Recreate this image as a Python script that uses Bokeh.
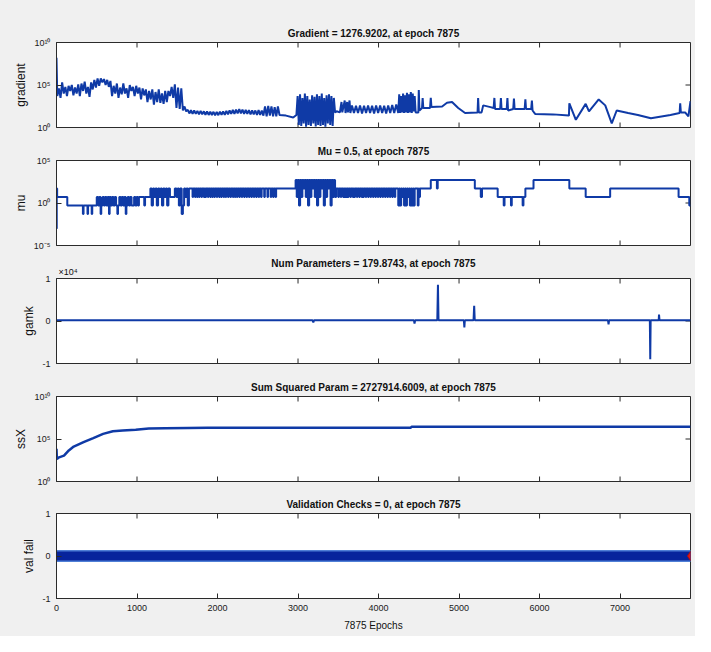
from bokeh.plotting import figure
from bokeh.layouts import column
from bokeh.models import Range1d, LinearAxis, LogAxis, FixedTicker, LogScale, Title
from bokeh.embed import file_html
from bokeh.resources import INLINE

# ---------------- data ----------------
final_epoch = 7875
x_ticks = [0, 1000, 2000, 3000, 4000, 5000, 6000, 7000]
x_tick_labels = ["0", "1000", "2000", "3000", "4000", "5000", "6000", "7000"]

titles = [
    "Gradient = 1276.9202, at epoch 7875",
    "Mu = 0.5, at epoch 7875",
    "Num Parameters = 179.8743, at epoch 7875",
    "Sum Squared Param = 2727914.6009, at epoch 7875",
    "Validation Checks = 0, at epoch 7875",
]
y_labels = ["gradient", "mu", "gamk", "ssX", "val fail"]
gamk_multiplier = "\u00d710\u2074"

grad_ticks = [1, 1e5, 1e10]
grad_tick_labels = ["10\u2070", "10\u2075", "10\u00b9\u2070"]
mu_ticks = [1e-5, 1, 1e5]
mu_tick_labels = ["10\u207b\u2075", "10\u2070", "10\u2075"]
gamk_ticks = [-1e4, 0, 1e4]
gamk_tick_labels = ["-1", "0", "1"]
ssx_ticks = [1, 1e5, 1e10]
ssx_tick_labels = ["10\u2070", "10\u2075", "10\u00b9\u2070"]
val_ticks = [-1, 0, 1]
val_tick_labels = ["-1", "0", "1"]

grad_epochs = [
    0, 10, 30, 50, 70, 90, 110, 130, 150, 170,
    190, 210, 230, 250, 270, 290, 310, 330, 350, 370,
    390, 410, 430, 450, 470, 490, 510, 530, 550, 570,
    590, 610, 630, 650, 670, 690, 710, 730, 750, 770,
    790, 810, 830, 850, 870, 890, 910, 930, 950, 970,
    990, 1010, 1030, 1050, 1070, 1090, 1110, 1130, 1150, 1170,
    1190, 1210, 1230, 1250, 1270, 1290, 1310, 1330, 1350, 1370,
    1390, 1410, 1430, 1450, 1470, 1490, 1510, 1530, 1550, 1570,
    1590, 1610,
    1630, 1650, 1670, 1690, 1710, 1730, 1750, 1770, 1790, 1810,
    1830, 1850, 1870, 1890, 1910, 1930, 1950, 1970, 1990, 2010,
    2030, 2050, 2070, 2090, 2110, 2130, 2150, 2170, 2190, 2210,
    2230, 2250, 2270, 2290, 2310, 2330, 2350, 2370, 2390, 2410,
    2430, 2450, 2470, 2490, 2510, 2530, 2550, 2570,
    2590, 2610, 2630, 2650, 2670, 2690, 2710, 2730, 2750, 2770,
    2850, 2940, 2980,
    2995, 3010, 3025, 3040, 3055, 3070, 3085, 3100, 3115, 3130,
    3145, 3160, 3175, 3190, 3205, 3220, 3235, 3250, 3265, 3280,
    3295, 3310, 3325, 3340, 3355, 3370, 3385, 3400, 3415, 3430,
    3445, 3460,
    3480, 3520, 3540, 3550, 3580, 3590, 3610, 3620, 3640, 3650,
    3670, 3695, 3720, 3745, 3770, 3795, 3820, 3845, 3870, 3895,
    3920, 3945, 3970, 3995, 4020, 4045, 4070, 4095, 4120, 4145,
    4170, 4195, 4220, 4245,
    4257, 4269, 4281, 4293, 4305, 4317, 4329, 4341, 4353, 4365,
    4377, 4389, 4401, 4413, 4425, 4437, 4449, 4461,
    4480, 4495, 4500, 4508, 4540, 4548, 4556, 4640, 4649, 4657,
    4790, 4850, 4913, 4990, 5075, 5230, 5237, 5245, 5280, 5300,
    5390, 5430, 5439, 5447, 5511, 5520, 5528, 5592, 5601, 5609,
    5673, 5682, 5690, 5815, 5824, 5832, 5896, 5905, 5913, 5945,
    6168, 6365, 6370, 6451, 6573, 6614, 6735, 6816, 6897, 6958,
    7100, 7221, 7383, 7626, 7740, 7747, 7755, 7808, 7849, 7875,
]
grad_values = [
    1.6e8, 5e3, 4e4, 3e3, 2e5, 1e4, 6e4, 5e3, 8e4, 2e4,
    1e5, 6e3, 5e4, 1e4, 1.2e5, 5e3, 1.5e5, 2e4, 2.5e5, 1e4,
    6e4, 4e3, 2e5, 3e4, 4e5, 5e4, 6e5, 8e4, 6e5, 2e5,
    5e5, 1e5, 4e5, 6e4, 3e5, 5e3, 8e4, 1e4, 1.5e5, 3e3,
    5e4, 8e3, 1.5e5, 1e4, 4e4, 3e3, 1e5, 2e4, 6e4, 5e3,
    8e4, 1e4, 5e4, 2e3, 4e4, 6e3, 3e4, 1e3, 2e4, 2e3,
    3e4, 5e2, 1.5e4, 1e3, 3e4, 8e2, 1e4, 6e2, 2e4, 1e3,
    2e4, 5e3, 6e4, 3e3, 1.2e5, 2e2, 5e4, 1.5e2, 4e4, 1e2,
    3e2, 80,
    120, 45, 110, 40, 100, 40, 90, 35, 90, 35,
    80, 30, 80, 30, 70, 30, 70, 28, 70, 28,
    75, 30, 80, 30, 90, 35, 100, 40, 120, 40,
    130, 45, 150, 45, 130, 40, 120, 40, 110, 35,
    100, 35, 100, 30, 110, 30, 100, 25,
    300, 20, 350, 25, 300, 20, 250, 20, 300, 30,
    25, 15, 30,
    5e3, 2, 8e3, 1.5, 3e3, 3, 1e4, 1.2, 5e3, 2,
    2e3, 1.5, 6e3, 3, 4e3, 1.3, 8e3, 2, 5e3, 1.5,
    1e4, 2, 3e3, 1.2, 6e3, 3, 8e3, 2, 5e3, 1.5,
    3e3, 60,
    80, 60, 1e3, 60, 1.5e3, 50, 1e3, 60, 1.5e3, 50,
    400, 50, 350, 50, 400, 45, 350, 50, 400, 50,
    350, 45, 400, 50, 400, 50, 350, 45, 400, 50,
    450, 50, 500, 50,
    8e3, 50, 5e3, 60, 1e4, 50, 6e3, 60, 1.2e4, 50,
    8e3, 60, 1.5e4, 50, 1e4, 80, 5e3, 60,
    60, 60, 2.5e4, 100, 200, 3e3, 200, 200, 3e3, 250,
    300, 800, 1e3, 200, 50, 60, 3e3, 60, 60, 400,
    250, 200, 3e3, 150, 150, 3e3, 150, 150, 3e3, 100,
    150, 2.5e3, 150, 150, 2e3, 150, 150, 1.5e3, 100, 40,
    35, 25, 700, 8, 600, 80, 2e3, 400, 3, 100,
    50, 30, 12, 30, 50, 700, 60, 60, 20, 1276.9202,
]

mu_epochs = [
    0, 3, 8, 134, 328, 336, 385, 392, 437, 444,
    500, 516, 532, 548, 556, 572, 588, 604, 620, 636,
    652, 660, 676, 692, 708, 724, 740, 756, 764, 780,
    796, 812, 828, 844, 860, 868, 884, 900, 916, 932,
    948, 964, 980, 996, 1012, 1024, 1090, 1100,
    1166, 1182, 1198, 1214, 1230, 1246, 1262, 1278, 1294, 1310,
    1326, 1342, 1358, 1374, 1390, 1409,
    1470, 1490, 1505, 1520, 1535, 1555, 1570, 1585, 1600, 1615,
    1630, 1645,
    1690, 1698, 1720, 1728, 1745, 1753, 1770, 1778, 1800, 1808,
    1830, 1838, 1850, 1858, 1880, 1888, 1910, 1918, 1935, 1943,
    1960, 1968, 1990, 1998, 2020, 2028, 2045, 2053, 2075, 2083,
    2100, 2108, 2130, 2138, 2160, 2168, 2190, 2198, 2215, 2223,
    2240, 2248, 2270, 2278, 2300, 2308, 2330, 2338, 2360, 2368,
    2390, 2398, 2420, 2428, 2450, 2458, 2480, 2488, 2510, 2518,
    2540, 2548, 2580, 2588, 2620, 2628, 2660, 2668, 2690, 2698,
    2720, 2728,
    2970, 2984, 2998, 3012, 3026, 3040, 3054, 3068, 3082, 3096,
    3110, 3124, 3138, 3152, 3166, 3180, 3194, 3208, 3222, 3236,
    3250, 3264, 3278, 3292, 3306, 3320, 3334, 3348, 3362, 3376,
    3390, 3404, 3418, 3432, 3446, 3460, 3474,
    3500, 3508, 3530, 3538, 3560, 3568, 3580, 3588, 3600, 3608,
    3620, 3628, 3650, 3658, 3680, 3688, 3700, 3708, 3730, 3738,
    3760, 3768, 3790, 3798, 3810, 3818, 3840, 3848, 3870, 3878,
    3900, 3908, 3930, 3938, 3960, 3968, 3990, 3998, 4020, 4028,
    4050, 4058, 4080, 4088, 4110, 4118, 4140, 4148, 4170, 4178,
    4200, 4208,
    4245, 4257, 4269, 4281, 4293, 4305, 4317, 4329, 4341, 4353,
    4365, 4377, 4389, 4401, 4413, 4425, 4437, 4449,
    4487, 4497, 4505, 4515, 4649, 4725, 4735, 5196, 5270, 5285,
    5480, 5555, 5565, 5645, 5655, 5790, 5800, 5824, 5925, 6370,
    6573, 6877, 7727, 7860, 7875,
]
mu_values = [
    0.001, 50, 5, 0.5, 0.05, 0.5, 0.05, 0.5, 0.05, 0.5,
    5, 0.5, 5, 0.05, 0.5, 5, 0.5, 5, 0.5, 5,
    0.05, 5, 0.5, 5, 0.5, 5, 0.5, 0.05, 0.5, 5,
    0.5, 5, 0.5, 5, 0.05, 0.5, 5, 0.5, 5, 0.5,
    0.5, 5, 0.5, 5, 0.5, 5, 0.5, 5,
    50, 0.5, 50, 5, 50, 0.5, 50, 5, 50, 0.5,
    50, 5, 50, 0.5, 50, 5,
    50, 5, 50, 0.5, 50, 0.05, 0.5, 50, 5, 50,
    0.5, 50,
    5, 50, 5, 50, 5, 50, 5, 50, 5, 50,
    5, 50, 5, 50, 5, 50, 5, 50, 5, 50,
    5, 50, 5, 50, 5, 50, 5, 50, 5, 50,
    5, 50, 5, 50, 5, 50, 5, 50, 5, 50,
    5, 50, 5, 50, 5, 50, 5, 50, 5, 50,
    5, 50, 5, 50, 5, 50, 5, 50, 5, 50,
    5, 50, 5, 50, 5, 50, 5, 50, 5, 50,
    5, 50,
    500, 5, 500, 0.5, 500, 5, 500, 50, 500, 5,
    500, 0.5, 500, 5, 500, 50, 500, 5, 500, 0.5,
    500, 5, 500, 50, 500, 0.5, 500, 5, 500, 50,
    500, 0.5, 500, 5, 500, 5, 50,
    5, 50, 5, 50, 5, 50, 5, 50, 5, 50,
    5, 50, 5, 50, 5, 50, 5, 50, 5, 50,
    5, 50, 5, 50, 5, 50, 5, 50, 5, 50,
    5, 50, 5, 50, 5, 50, 5, 50, 5, 50,
    5, 50, 5, 50, 5, 50, 5, 50, 5, 50,
    5, 50,
    0.5, 50, 0.5, 50, 5, 50, 0.5, 50, 0.5, 50,
    5, 50, 0.5, 50, 0.5, 50, 0.5, 50,
    0.5, 50, 5, 50, 500, 50, 500, 50, 5, 50,
    5, 0.5, 5, 0.5, 5, 0.5, 5, 50, 500, 50,
    5, 50, 5, 0.5, 0.5,
]

gamk_epochs = [
    0, 3180, 3190, 3200, 4440, 4447, 4455, 4730, 4738, 4745,
    5060, 5066, 5072, 5180, 5188, 5195, 6850, 6857, 6864, 7370,
    7375, 7380, 7480, 7484, 7490, 7875,
]
gamk_values = [
    180, 180, -300, 180, 180, -600, 180, 180, 8500, 180,
    180, -1500, 180, 180, 3600, 180, 180, -800, 180, 180,
    -9000, 180, 180, 1500, 180, 179.8743,
]

ssx_epochs = [0, 5, 32, 93, 153, 214, 336, 457, 579, 700,
              822, 984, 1146, 1349, 1632, 1875, 4400, 4410, 7875]
ssx_values = [7e3, 450, 700, 1.1e3, 4.5e3, 1.3e4, 4.3e4, 1.3e5, 4e5, 8e5,
              1e6, 1.25e6, 1.7e6, 1.9e6, 2e6, 2.1e6, 2.1e6, 2.7e6, 2727914.6009]

val_epochs = [0, 7875]
val_fail = [0, 0]

# ---------------- style ----------------
BG = "#f0f0f0"
FRAME = "#2b2b2b"
LINE = "#0f3aa6"
FONT = "'Liberation Sans', Arial, sans-serif"
W = 695
BORDER_L, BORDER_R = 56, 5
FRAME_H = 85
FRAME_W = W - BORDER_L - BORDER_R
TICK_PX = 5


def inside_ticks(p, yr, yticks, log, bottom=True):
    """MATLAB-style inward ticks on the top, bottom and right edges."""
    if log:
        f = (yr[1] / yr[0]) ** (TICK_PX / FRAME_H)
        top_in, bot_in = yr[1] / f, yr[0] * f
    else:
        d = (yr[1] - yr[0]) * TICK_PX / FRAME_H
        top_in, bot_in = yr[1] - d, yr[0] + d
    n = len(x_ticks)
    p.segment(x0=x_ticks, y0=[yr[1]] * n, x1=x_ticks, y1=[top_in] * n,
              line_color=FRAME, line_width=1)
    if bottom:
        p.segment(x0=x_ticks, y0=[yr[0]] * n, x1=x_ticks, y1=[bot_in] * n,
                  line_color=FRAME, line_width=1)
    dx = final_epoch * TICK_PX / FRAME_W
    m = len(yticks)
    p.segment(x0=[final_epoch] * m, y0=yticks, x1=[final_epoch - dx] * m, y1=yticks,
              line_color=FRAME, line_width=1)


def title_obj(text, standoff, align="center", size="10px", bold=True, offset=0):
    return Title(text=text, align=align, offset=offset, text_font=FONT, text_font_size=size,
                 text_font_style="bold" if bold else "normal", text_color="#111111",
                 standoff=standoff)


def make_panel(ylabel, top, bottom, yr, log, yticks, ylabs, last=False):
    height = top + FRAME_H + bottom
    p = figure(width=W, height=height, x_range=Range1d(0, final_epoch),
               y_range=Range1d(*yr), x_axis_type=None, y_axis_type=None,
               output_backend="svg", toolbar_location=None,
               min_border_left=BORDER_L, min_border_right=BORDER_R,
               min_border_top=top, min_border_bottom=bottom,
               background_fill_color="white", border_fill_color=BG,
               outline_line_color=FRAME, outline_line_width=1)
    if log:
        p.y_scale = LogScale()
    Ax = LogAxis if log else LinearAxis
    left = Ax(ticker=FixedTicker(ticks=yticks),
              major_label_overrides=dict(zip(yticks, ylabs)),
              axis_label=ylabel, axis_label_text_font=FONT,
              axis_label_text_font_size="12px", axis_label_text_font_style="normal",
              axis_label_standoff=3, axis_label_text_color="#111111",
              major_tick_in=5, major_tick_out=0, minor_tick_line_color=None,
              major_tick_line_color=FRAME, axis_line_color=FRAME,
              major_label_text_font=FONT, major_label_text_font_size="9px",
              major_label_text_color="#1a1a1a", major_label_standoff=6)
    p.add_layout(left, "left")
    if last:
        bot = LinearAxis(ticker=FixedTicker(ticks=x_ticks),
                         major_label_overrides=dict(zip(x_ticks, x_tick_labels)),
                         axis_label=f"{final_epoch} Epochs", axis_label_text_font=FONT,
                         axis_label_text_font_size="10px", axis_label_text_font_style="normal",
                         axis_label_standoff=6, axis_label_text_color="#111111",
                         major_tick_in=5, major_tick_out=0, minor_tick_line_color=None,
                         major_tick_line_color=FRAME, axis_line_color=FRAME,
                         major_label_text_font=FONT, major_label_text_font_size="9px",
                         major_label_text_color="#1a1a1a", major_label_standoff=6)
        p.add_layout(bot, "below")
    inside_ticks(p, yr, yticks, log, bottom=not last)
    return p


# panel 1: gradient
p1 = make_panel(y_labels[0], 42, 10, (1, 1e10), True, grad_ticks, grad_tick_labels)
p1.add_layout(title_obj(titles[0], 7), "above")
p1.line(grad_epochs, grad_values, line_color=LINE, line_width=2)

# panel 2: mu (staircase built from the mu arrays)
mu_sx, mu_sy = [], []
for i, (e, v) in enumerate(zip(mu_epochs, mu_values)):
    if i > 0:
        mu_sx.append(e)
        mu_sy.append(mu_values[i - 1])
    mu_sx.append(e)
    mu_sy.append(v)
p2 = make_panel(y_labels[1], 23, 10, (1e-5, 1e5), True, mu_ticks, mu_tick_labels)
p2.add_layout(title_obj(titles[1], 7), "above")
p2.line(mu_sx, mu_sy, line_color=LINE, line_width=2)

# panel 3: gamk -- multiplier next to the frame, title pulled down onto the same band
p3 = make_panel(y_labels[2], 23, 10, (-1e4, 1e4), False, gamk_ticks, gamk_tick_labels)
p3.add_layout(title_obj(gamk_multiplier, 3, align="left", size="9px", bold=False, offset=2), "above")
p3.add_layout(title_obj(titles[2], -11), "above")
p3.line(gamk_epochs, gamk_values, line_color=LINE, line_width=2)

# panel 4: ssX
p4 = make_panel(y_labels[3], 23, 10, (1, 1e10), True, ssx_ticks, ssx_tick_labels)
p4.add_layout(title_obj(titles[3], 7), "above")
p4.line(ssx_epochs, ssx_values, line_color=LINE, line_width=2.5)

# panel 5: validation checks
p5 = make_panel(y_labels[4], 22, 38, (-1, 1), False, val_ticks, val_tick_labels, last=True)
p5.add_layout(title_obj(titles[4], 7), "above")
p5.line(val_epochs, val_fail, line_color="#4f7fd6", line_width=12, line_cap="round")
p5.line(val_epochs, val_fail, line_color="#07249c", line_width=9, line_cap="round")
p5.scatter([val_epochs[-1]], [val_fail[-1]], marker="diamond", size=9,
           fill_color="#e0161b", line_color="#b01010")

layout = column(p1, p2, p3, p4, p5, spacing=0, background=BG)

open("out.html", "w").write(file_html(layout, INLINE))
